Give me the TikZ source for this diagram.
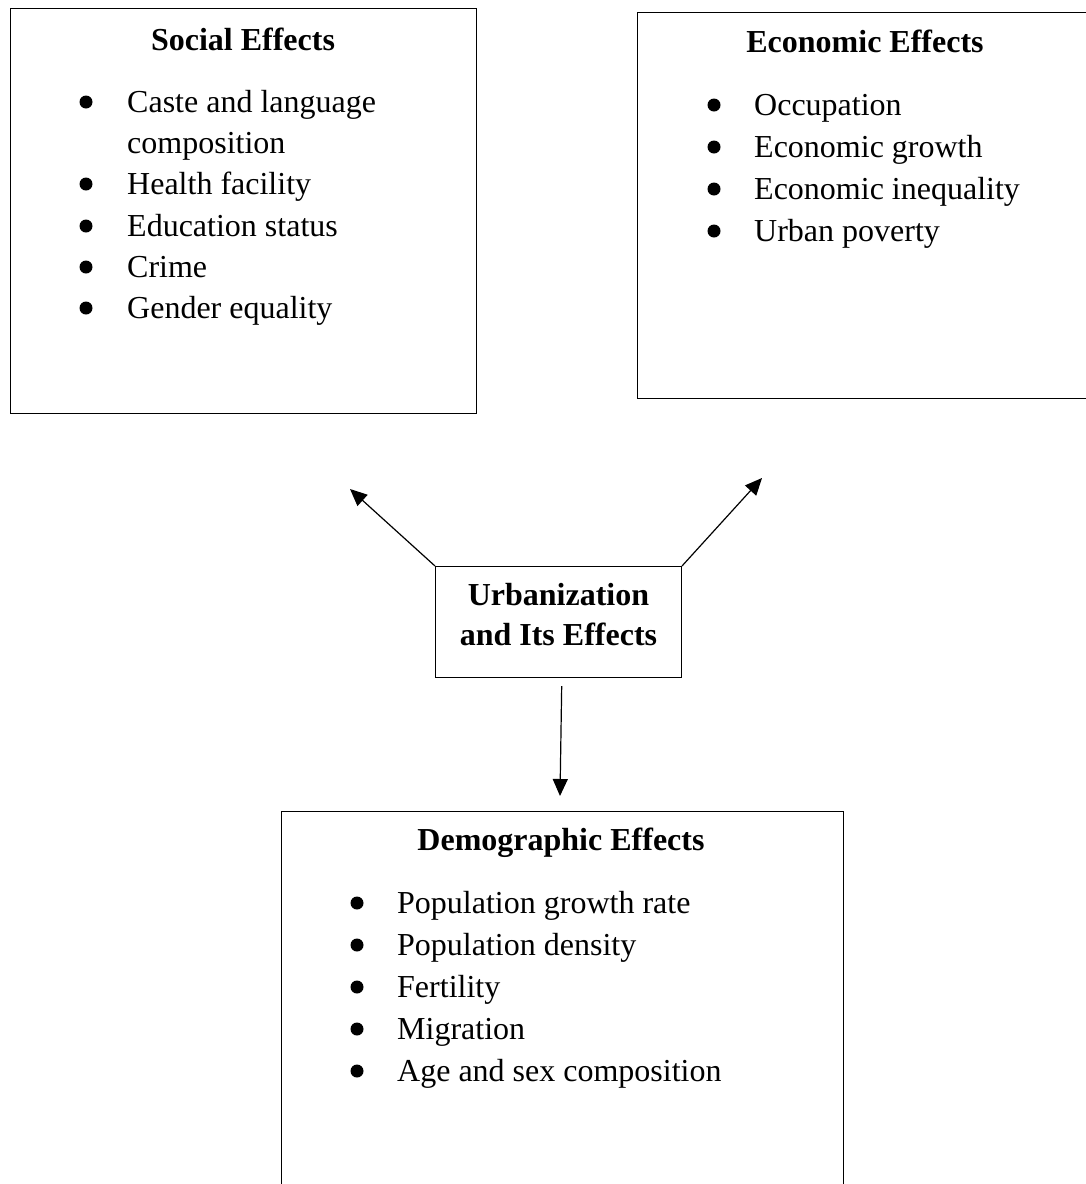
\documentclass[tikz,border=0pt]{standalone}
\usepackage{fontspec}
\setmainfont{Liberation Serif}
\usetikzlibrary{arrows.meta}
\begin{document}
\begin{tikzpicture}[x=1pt,y=-1pt,
  box/.style={draw, line width=1.2pt, rectangle, inner sep=0pt, anchor=north west},
  ttl/.style={anchor=base, font=\fontsize{32}{40}\selectfont\bfseries, inner sep=0pt},
  item/.style={anchor=base west, font=\fontsize{32}{40}\selectfont, inner sep=0pt},
  bul/.style={circle, fill=black, inner sep=0pt, minimum size=13pt},
  arr/.style={line width=1.2pt, -{Triangle[length=17pt,width=15pt]}}]
\useasboundingbox (0,0) rectangle (1086,1184);
\clip (0,0) rectangle (1086,1184);

% boxes
\node[box, minimum width=466pt, minimum height=405pt] (social) at (10,8) {};
\node[box, minimum width=460pt, minimum height=386pt] (econ) at (637,12) {};
\node[box, minimum width=562pt, minimum height=400pt] (demo) at (281,811) {};
\node[draw, line width=1.2pt, rectangle, inner sep=0pt, minimum width=246pt, minimum height=111pt,
      text depth=16pt, align=center, font=\fontsize{32}{40}\selectfont\bfseries] (urb) at (558.5,622) {Urbanization\\and Its Effects};

% titles
\node[ttl] (socT) at (243,50) {Social Effects};
\node[ttl] (ecoT) at (865,52) {Economic Effects};
\node[ttl] (demT) at (561,850) {Demographic Effects};

% social items
\foreach \t/\y/\b [count=\i] in {Caste and language/112/1, composition/153/0, Health facility/194/1,
    Education status/236/1, Crime/277/1, Gender equality/318/1}{
  \node[item] (s\i) at (127,\y) {\t};
  \ifnum\b=1 \node[bul] (sb\i) at (86,\y-10) {};\fi
}
% economic items
\foreach \t/\y [count=\i] in {Occupation/115, Economic growth/157, Economic inequality/199, Urban poverty/241}{
  \node[item] (e\i) at (754,\y) {\t};
  \node[bul] (eb\i) at (714,\y-10) {};
}
% demographic items
\foreach \t/\y [count=\i] in {Population growth rate/913, Population density/955, Fertility/997,
    Migration/1039, Age and sex composition/1081}{
  \node[item] (d\i) at (397,\y) {\t};
  \node[bul] (db\i) at (357,\y-10) {};
}

% arrows
\coordinate (tl) at (350,489);
\coordinate (tr) at (762,478);
\coordinate (bs) at (561.7,686);
\coordinate (bt) at (560,796);
\draw[arr] (urb.north west) -- (tl);
\draw[arr] (urb.north east) -- (tr);
\draw[arr] (bs) -- (bt);
\end{tikzpicture}
\end{document}
